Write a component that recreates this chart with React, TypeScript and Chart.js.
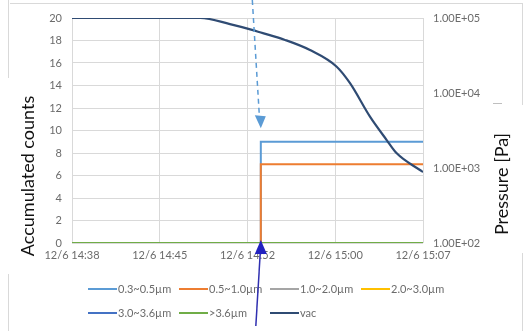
import React, { useEffect, useRef } from "react";
import { Chart, registerables } from "chart.js";

Chart.register(...registerables);

// ---- data ----
const xTickValues = [0, 7.25, 14.5, 21.75, 29]; // minutes after 12/6 14:38
const xTickLabels = ["12/6 14:38", "12/6 14:45", "12/6 14:52", "12/6 15:00", "12/6 15:07"];
const pressureTicks = [100, 1000, 10000, 100000];

const seriesNames = ["0.3~0.5µm", "0.5~1.0µm", "1.0~2.0µm", "2.0~3.0µm", "3.0~3.6µm", ">3.6µm"];
const seriesColors = ["#5B9BD5", "#ED7D31", "#A5A5A5", "#FFC000", "#4472C4", "#70AD47"];

const countTimes = [0, 15.6, 29];
const count03to05 = [0, 9, 9];
const count05to10 = [0, 7, 7];
const count10to20 = [0, 0, 0];
const count20to30 = [0, 0, 0];
const count30to36 = [0, 0, 0];
const count36up = [0, 0, 0];
const countSeries = [count03to05, count05to10, count10to20, count20to30, count30to36, count36up];

const vacName = "vac";
const vacColor = "#2F4B73";
const vacTimes = [0, 10.6, 13.05, 14.95, 15.53, 17.6, 19.66, 21.87, 22.97, 24.62, 26.0, 26.83, 28.75, 29];
const vacPressure = [100000, 100000, 83000, 69000, 64500, 51000, 37400, 22400, 13500, 4830, 2360, 1570, 940, 885];

const arrowTime = 15.6;

const FONT = "Lato, 'Open Sans', sans-serif";

function fmtExp(v: number) {
  const e = Math.floor(Math.log10(v) + 1e-9);
  const m = v / Math.pow(10, e);
  return m.toFixed(2) + "E+" + String(e).padStart(2, "0");
}

const overlayPlugin = {
  id: "overlay",
  afterDraw(chart: any) {
    const ctx = chart.ctx as CanvasRenderingContext2D;
    const xs = chart.scales.x;
    const ys = chart.scales.y;
    ctx.save();

    // frame fragments
    ctx.strokeStyle = "#D9D9D9";
    ctx.lineWidth = 1;
    ctx.beginPath();
    ctx.moveTo(8.5, 0); ctx.lineTo(8.5, 78);
    ctx.moveTo(10, 3.5); ctx.lineTo(522, 3.5);
    ctx.moveTo(522.5, 3); ctx.lineTo(522.5, 105);
    ctx.moveTo(8.5, 274); ctx.lineTo(8.5, 331);
    ctx.moveTo(522.5, 253); ctx.lineTo(522.5, 331);
    ctx.stroke();
    ctx.strokeStyle = "#BFBFBF";
    ctx.beginPath();
    ctx.moveTo(493, 103.5); ctx.lineTo(502, 103.5);
    ctx.stroke();

    // axis titles
    ctx.fillStyle = "#111";
    ctx.font = "18px " + FONT;
    ctx.textAlign = "center";
    ctx.textBaseline = "middle";
    ctx.save();
    ctx.translate(28, 176);
    ctx.rotate(-Math.PI / 2);
    ctx.fillText("Accumulated counts", 0, 0);
    ctx.restore();
    ctx.save();
    ctx.translate(502, 184);
    ctx.rotate(-Math.PI / 2);
    ctx.fillText("Pressure [Pa]", 0, 0);
    ctx.restore();

    // legend
    const cols = [88, 179, 270, 361];
    const rows = [289, 313];
    const items = seriesNames.map((n, i) => ({ n, c: seriesColors[i] }));
    items.push({ n: vacName, c: vacColor });
    ctx.font = "11px " + FONT;
    ctx.textAlign = "left";
    ctx.textBaseline = "middle";
    items.forEach((it, i) => {
      const r = i < 4 ? 0 : 1;
      const c = i < 4 ? i : i - 4;
      const x = cols[c];
      const y = rows[r];
      ctx.strokeStyle = it.c;
      ctx.lineWidth = 2;
      ctx.beginPath();
      ctx.moveTo(x, y);
      ctx.lineTo(x + 29, y);
      ctx.stroke();
      ctx.fillStyle = "#6b6b6b";
      ctx.fillText(it.n, x + 30, y + 0.5);
    });

    // dashed arrow pointing to the step
    const ax = xs.getPixelForValue(arrowTime);
    const tipY = ys.getPixelForValue(10.2);
    ctx.strokeStyle = "#5B9BD5";
    ctx.setLineDash([5, 4]);
    ctx.lineWidth = 1.5;
    ctx.beginPath();
    ctx.moveTo(ax - 8.5, 0);
    ctx.lineTo(ax - 1.5, tipY - 13);
    ctx.stroke();
    ctx.setLineDash([]);
    ctx.fillStyle = "#5B9BD5";
    ctx.beginPath();
    ctx.moveTo(ax, tipY);
    ctx.lineTo(ax - 6, tipY - 13);
    ctx.lineTo(ax + 5, tipY - 12);
    ctx.closePath();
    ctx.fill();

    // solid arrow from below
    const bTip = ys.getPixelForValue(0) - 3;
    ctx.strokeStyle = "#3030B0";
    ctx.lineWidth = 1.5;
    ctx.beginPath();
    ctx.moveTo(ax - 5, 326);
    ctx.lineTo(ax - 0.5, bTip + 12);
    ctx.stroke();
    ctx.fillStyle = "#2222C0";
    ctx.beginPath();
    ctx.moveTo(ax, bTip);
    ctx.lineTo(ax - 6, bTip + 14);
    ctx.lineTo(ax + 6, bTip + 14);
    ctx.closePath();
    ctx.fill();

    ctx.restore();
  },
};

export default function App() {
  const ref = useRef<HTMLCanvasElement | null>(null);
  useEffect(() => {
    if (!ref.current) return;
    const countDatasets = countSeries.map((vals, i) => ({
      label: seriesNames[i],
      data: vals.map((v, k) => ({ x: countTimes[k], y: v })),
      borderColor: seriesColors[i],
      backgroundColor: seriesColors[i],
      borderWidth: 2,
      pointRadius: 0,
      stepped: "before" as const,
      yAxisID: "y",
      order: 10 - i,
    }));
    const vacDataset = {
      label: vacName,
      data: vacTimes.map((t, k) => ({ x: t, y: vacPressure[k] })),
      borderColor: vacColor,
      backgroundColor: vacColor,
      borderWidth: 2.2,
      pointRadius: 0,
      cubicInterpolationMode: "monotone" as const,
      yAxisID: "y2",
      order: 0,
    };
    const chart = new Chart(ref.current, {
      type: "line",
      data: { datasets: [...countDatasets, vacDataset] as any },
      options: {
        animation: false,
        responsive: false,
        layout: { padding: { top: 18, left: 0, right: 0, bottom: 0 } },
        plugins: { legend: { display: false }, tooltip: { enabled: false }, title: { display: false } },
        scales: {
          x: {
            type: "linear",
            min: 0,
            max: 29,
            afterBuildTicks: (s: any) => {
              s.ticks = xTickValues.map((v) => ({ value: v }));
            },
            afterFit: (s: any) => {
              s.height = 88;
            },
            ticks: {
              autoSkip: false,
              maxRotation: 0,
              padding: 6,
              color: "#6b6b6b",
              font: { family: FONT, size: 11 },
              callback: (_v: any, i: number) => xTickLabels[i],
            },
            grid: { color: "#D9D9D9", drawTicks: false },
            border: { display: false },
          },
          y: {
            position: "left",
            min: 0,
            max: 20,
            ticks: {
              stepSize: 2,
              padding: 10,
              color: "#6b6b6b",
              font: { family: FONT, size: 11 },
            },
            afterFit: (s: any) => {
              s.width = 72;
            },
            grid: { color: "#D9D9D9", drawTicks: false },
            border: { display: false },
          },
          y2: {
            type: "logarithmic",
            position: "right",
            min: 100,
            max: 100000,
            afterBuildTicks: (s: any) => {
              s.ticks = pressureTicks.map((v) => ({ value: v }));
            },
            afterFit: (s: any) => {
              s.width = 107;
            },
            ticks: {
              padding: 10,
              color: "#6b6b6b",
              font: { family: FONT, size: 11 },
              callback: (v: any) => fmtExp(Number(v)),
            },
            grid: { display: false, drawTicks: false },
            border: { display: false },
          },
        },
      },
      plugins: [overlayPlugin],
    });
    return () => chart.destroy();
  }, []);
  return (
    <div style={{ position: "absolute", left: 0, top: 0, width: 530, height: 331, background: "#fff" }}>
      <canvas ref={ref} width={530} height={331} />
    </div>
  );
}
